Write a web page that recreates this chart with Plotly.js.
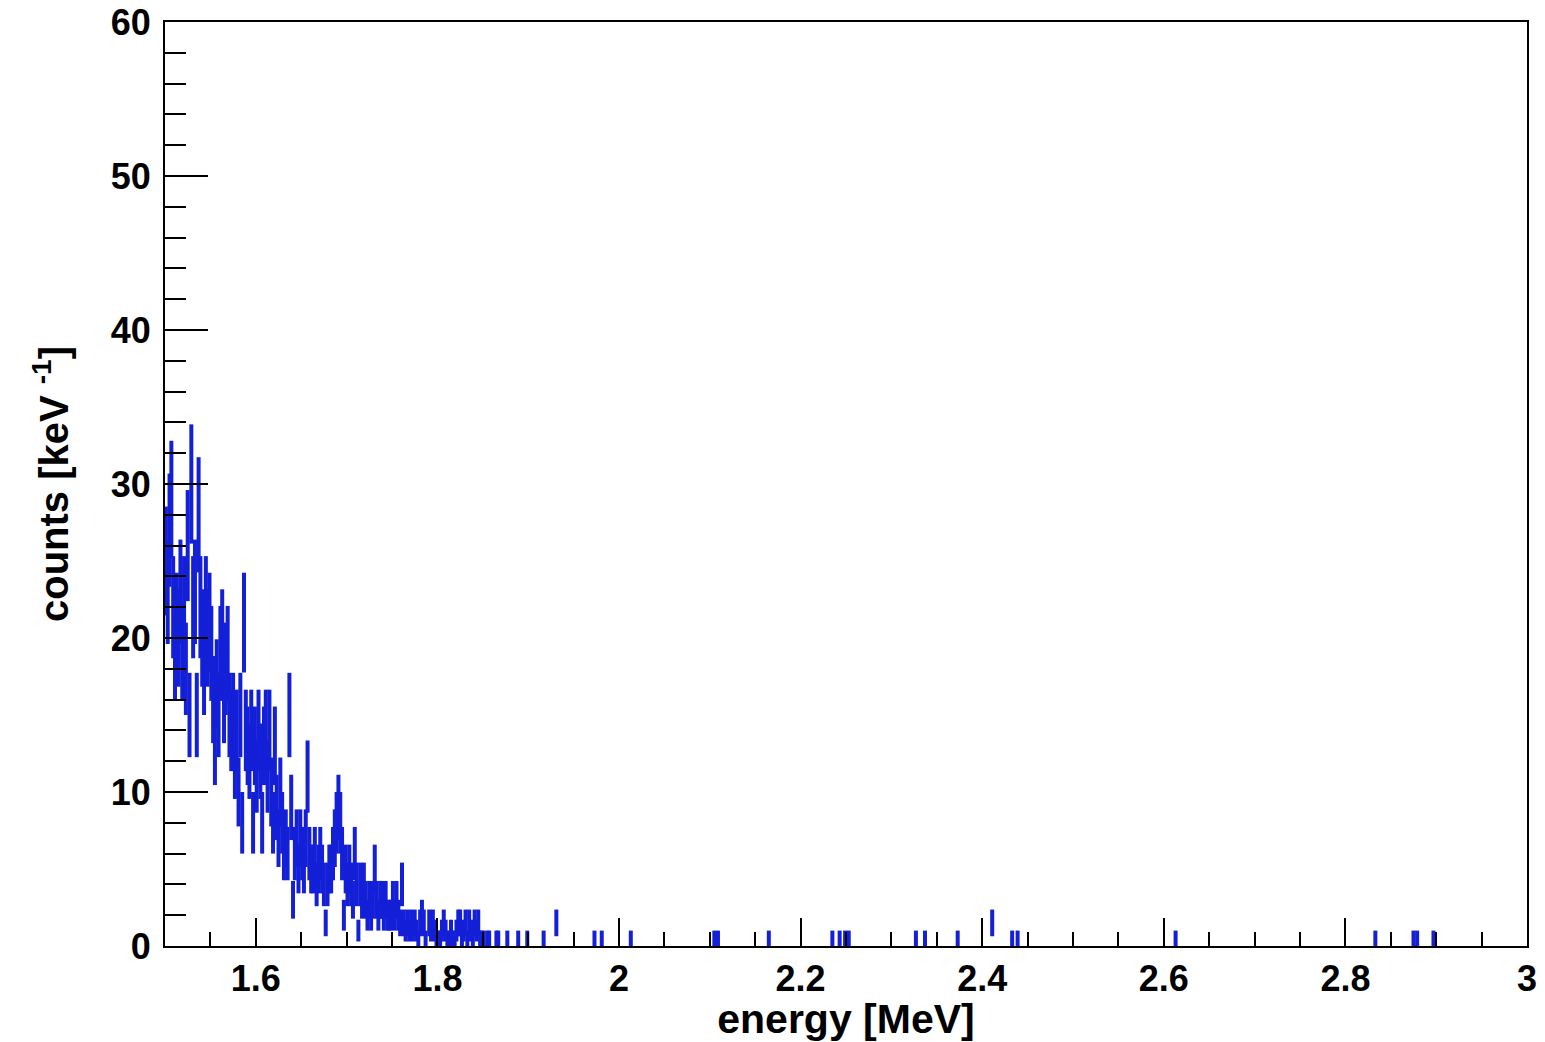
<!DOCTYPE html>
<html>
<head>
<meta charset="utf-8">
<script src="https://cdn.plot.ly/plotly-3.0.1.min.js"></script>
<style>html,body{margin:0;padding:0;background:#fff;}#chart{width:1545px;height:1042px;}</style>
</head>
<body>
<div id="chart"></div>
<script>
// Histogram binning (2 keV bins), dense part starts at 1.500 MeV
const binWidthMeV = 0.002;
const denseStartCenter = 1.501;
// counts per 2 keV bin (1.500 - 1.856 MeV)
const denseCounts = [
  50, 46, 54, 58, 44, 38, 42, 40, 46, 38,
  44, 36, 52, 30, 60, 44, 46, 30, 56, 44,
  40, 36, 44, 40, 42, 38, 32, 26, 34, 30,
  38, 40, 32, 36, 38, 30, 28, 30, 24, 28,
  20, 30, 16, 42, 28, 26, 24, 28, 16, 26,
  22, 28, 24, 16, 26, 28, 22, 28, 20, 16,
  26, 18, 14, 20, 16, 12, 14, 12, 30, 18,
  6, 12, 14, 10, 14, 12, 10, 14, 22, 12,
  10, 10, 12, 8, 10, 12, 10, 8, 3, 8,
  10, 10, 12, 14, 16, 18, 16, 12, 4, 10,
  8, 10, 8, 6, 12, 8, 2, 8, 6, 8,
  6, 4, 6, 4, 6, 10, 6, 4, 6, 6,
  4, 6, 4, 4, 4, 6, 4, 6, 4, 3,
  8, 3, 2, 3, 2, 3, 2, 3, 2, 1,
  3, 4, 3, 1, 0, 3, 2, 3, 2, 1,
  1, 1, 2, 3, 2, 1, 1, 2, 1, 1,
  2, 3, 3, 1, 2, 3, 1, 3, 2, 1,
  3, 2, 3, 1, 1, 1, 0, 1
];
// isolated non-empty bins above the dense part
const sparseEnergy = [1.857, 1.865, 1.867, 1.877, 1.889, 1.899, 1.917, 1.931, 1.973, 1.981,
  2.013, 2.105, 2.109, 2.165, 2.235, 2.243, 2.249, 2.253, 2.327, 2.337,
  2.373, 2.411, 2.433, 2.439, 2.613, 2.833, 2.875, 2.879, 2.897];
const sparseCounts = [1, 1, 1, 1, 1, 1, 1, 3, 1, 1,
  1, 1, 1, 1, 1, 1, 1, 1, 1, 1,
  1, 3, 1, 1, 1, 1, 1, 1, 1];

const xTickVals = [1.6, 1.8, 2.0, 2.2, 2.4, 2.6, 2.8, 3.0];
const xTickText = ['1.6', '1.8', '2', '2.2', '2.4', '2.6', '2.8', '3'];
const yTickVals = [0, 10, 20, 30, 40, 50, 60];

const xs = [], ys = [], es = [];
function addBin(e, c) {
  if (c <= 0) return;
  const keV = binWidthMeV * 1000;
  xs.push(e); ys.push(c / keV); es.push(Math.sqrt(c) / keV);
}
denseCounts.forEach((c, i) => addBin(denseStartCenter + i * binWidthMeV, c));
sparseEnergy.forEach((e, i) => addBin(e, sparseCounts[i]));

const blue = 'rgb(20,32,215)';
const trace = {
  type: 'scatter', mode: 'markers', x: xs, y: ys,
  marker: {size: 1, color: blue},
  error_y: {type: 'data', array: es, symmetric: true, width: 0, thickness: 4, color: blue},
  error_x: {type: 'constant', value: binWidthMeV / 2, width: 0, thickness: 3, color: blue},
  hoverinfo: 'x+y', showlegend: false
};
const font = {family: 'Liberation Sans, Arial, Helvetica, sans-serif', color: '#000', weight: 'bold'};
const layout = {
  width: 1545, height: 1042,
  margin: {l: 165, r: 18, t: 22, b: 96},
  paper_bgcolor: '#fff', plot_bgcolor: '#fff',
  showlegend: false,
  xaxis: {
    range: [1.5, 3], tickvals: xTickVals, ticktext: xTickText,
    ticks: 'inside', ticklen: 28, tickwidth: 2, tickcolor: '#000',
    minor: {ticks: 'inside', ticklen: 14, tickwidth: 2, tickcolor: '#000', tick0: 1.5, dtick: 0.05, showgrid: false},
    showline: true, mirror: true, linecolor: '#000', linewidth: 2,
    showgrid: false, zeroline: false,
    tickfont: Object.assign({size: 36}, font),
    title: {text: 'energy [MeV]', font: Object.assign({size: 41}, font), standoff: 4},
    automargin: false
  },
  yaxis: {
    range: [0, 60], tickvals: yTickVals,
    ticks: 'inside', ticklen: 43, tickwidth: 2, tickcolor: '#000',
    minor: {ticks: 'inside', ticklen: 21, tickwidth: 2, tickcolor: '#000', tick0: 0, dtick: 2, showgrid: false},
    showline: true, mirror: true, linecolor: '#000', linewidth: 2,
    showgrid: false, zeroline: false,
    tickfont: Object.assign({size: 36}, font),
    ticklabelstandoff: 5,
    title: {text: 'counts [keV <sup>-1</sup>]', font: Object.assign({size: 40}, font), standoff: 30},
    automargin: false
  }
};
Plotly.newPlot('chart', [trace], layout, {displayModeBar: false, staticPlot: true});
</script>
</body>
</html>
